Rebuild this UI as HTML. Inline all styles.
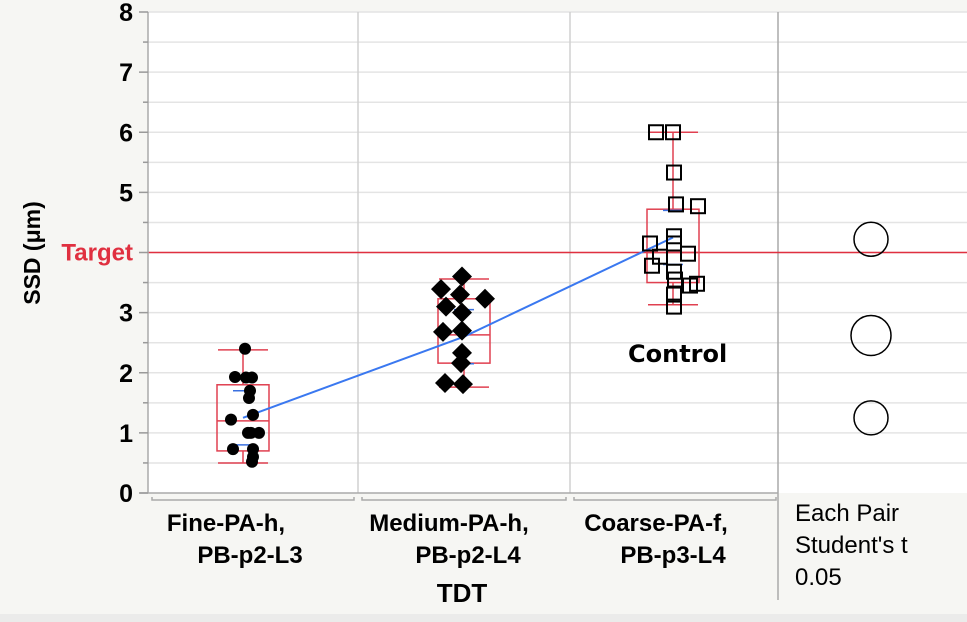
<!DOCTYPE html>
<html><head><meta charset="utf-8"><style>
html,body{margin:0;padding:0;background:#f6f6f3;}
svg{display:block;font-family:"Liberation Sans",sans-serif;}
</style></head><body>
<svg id="c" width="967" height="622" xmlns="http://www.w3.org/2000/svg">
<rect x="0" y="0" width="967" height="622" fill="#f6f6f3"/>
<rect x="0" y="614" width="967" height="8" fill="#ebebea"/>
<rect x="148" y="12" width="819" height="481" fill="#fff"/>
<g id="grid"></g><g id="marks"></g><g id="axes"></g>
</svg>
<script>
const yTicks=[0,1,2,3,4,5,6,7,8];
const categories=["Fine-PA-h,|PB-p2-L3","Medium-PA-h,|PB-p2-L4","Coarse-PA-f,|PB-p3-L4"];
const fineVals=[2.4,1.93,1.92,1.92,1.7,1.58,1.22,1.3,1.0,1.0,1.0,0.73,0.73,0.6,0.52];
const fineOff=[2,-8,3,9,7,6,-12,10,8,5,16,-10,10,10,9];
const medVals=[3.6,3.39,3.3,3.23,3.1,3.0,2.68,2.7,2.33,2.16,1.83,1.81];
const medOff=[-2,-23,-4,21,-18,-2,-21,-2,-2,-3,-19,-1];
const coarseVals=[6.0,6.0,5.33,4.8,4.77,4.27,4.15,4.15,3.93,3.98,3.78,3.68,3.55,3.45,3.48,3.3,3.1];
const coarseOff=[-17,0,1,3,25,1,1,-23,-13,15,-21,1,2,17,24,1,1];
const boxQ1=[0.7,2.16,3.5];
const boxMed=[1.2,2.63,4.0];
const boxQ3=[1.8,3.23,4.72];
const whiskLo=[0.5,1.76,3.13];
const whiskHi=[2.38,3.56,6.0];
const means=[1.25,2.6,4.25];
const target=4;
const circleY=[4.22,2.62,1.25];
const circleR=[17,20,17];

const NS="http://www.w3.org/2000/svg";
const y=v=>493-v*60.125;
const cx=[243,464,673];
function mk(p,t,a){const e=document.createElementNS(NS,t);for(const k in a)e.setAttribute(k,a[k]);document.getElementById(p).appendChild(e);return e;}
for(let v=0.5;v<=8;v+=0.5){const g=mk('grid','line',{x1:148,x2:967,y1:y(v),y2:y(v),stroke:'#e4e4e4','stroke-width':1.5});

}
[358,570].forEach(x=>{const l=mk('grid','line',{x1:x,x2:x,y1:12,y2:493,stroke:'#d0d0d0','stroke-width':1.5});

});
const sep=mk('grid','line',{x1:778,x2:778,y1:12,y2:600,stroke:'#aaa','stroke-width':1.5});


const tl=mk('grid','line',{x1:148,x2:967,y1:y(target),y2:y(target),stroke:'#e03040','stroke-width':1.5});


for(let i=0;i<3;i++){
 const x=cx[i];
 const b=mk('marks','rect',{x:x-26,y:y(boxQ3[i]),width:52,height:y(boxQ1[i])-y(boxQ3[i]),fill:'none',stroke:'#e04050','stroke-width':1.5});
 
 
 const parts=[[x-26,x+26,y(boxMed[i]),y(boxMed[i])],[x,x,y(whiskHi[i]),y(boxQ3[i])],[x,x,y(boxQ1[i]),y(whiskLo[i])],[x-25,x+25,y(whiskHi[i]),y(whiskHi[i])],[x-25,x+25,y(whiskLo[i]),y(whiskLo[i])]];
 parts.forEach(p=>{const l=mk('marks','line',{x1:p[0],x2:p[1],y1:p[2],y2:p[3],stroke:'#e04050','stroke-width':1.5});
 
 });
 [0.45,-0.45].forEach(d=>{const m=mk('marks','line',{x1:x-10,x2:x+10,y1:y(means[i]+d),y2:y(means[i]+d),stroke:'#3a70e0','stroke-width':1.5});
 
 });
}
const ml=mk('marks','polyline',{points:means.map((m,i)=>cx[i]+','+y(m)).join(' '),fill:'none',stroke:'#3a78f0','stroke-width':2});


fineVals.forEach((v,i)=>{const c=mk('marks','circle',{cx:cx[0]+fineOff[i],cy:y(v),r:6,fill:'#000'});

});
medVals.forEach((v,i)=>{const X=cx[1]+medOff[i],Y=y(v);const p=mk('marks','polygon',{points:`${X},${Y-10} ${X+10},${Y} ${X},${Y+10} ${X-10},${Y}`,fill:'#000'});

});
coarseVals.forEach((v,i)=>{const r=mk('marks','rect',{x:cx[2]+coarseOff[i]-7,y:y(v)-7,width:14,height:14,fill:'none',stroke:'#000','stroke-width':2});

});
circleY.forEach((v,i)=>{const c=mk('marks','circle',{cx:871,cy:y(v),r:circleR[i],fill:'none',stroke:'#000','stroke-width':1.5});

});
const ctl=mk('marks','text',{x:628,y:362,'font-size':24,'font-weight':'bold','font-family':'DejaVu Sans, sans-serif'});ctl.textContent='Control';


const ax=mk('axes','line',{x1:148,x2:148,y1:12,y2:493,stroke:'#aaa','stroke-width':1.5});


const bx=mk('axes','line',{x1:140,x2:778,y1:493,y2:493,stroke:'#aaa','stroke-width':1.5});


yTicks.forEach(v=>{
 if(v!==target){const t=mk('axes','text',{x:133,y:y(v)+9,'font-size':25,'font-weight':'bold','text-anchor':'end'});t.textContent=v;
 
 }
 const k=mk('axes','line',{x1:139,x2:148,y1:y(v),y2:y(v),stroke:'#999','stroke-width':1.5});
 
 
 if(v<8){const k2=mk('axes','line',{x1:143,x2:148,y1:y(v+0.5),y2:y(v+0.5),stroke:'#999','stroke-width':1.5});
 
 }
});
const tg=mk('axes','text',{x:133,y:y(target)+8,'font-size':24,'font-weight':'bold','text-anchor':'end',fill:'#e03040'});tg.textContent='Target';


const yt=mk('axes','text',{x:0,y:0,'font-size':23,'font-weight':'bold','text-anchor':'middle',transform:'translate(40,253) rotate(-90)'});yt.textContent='SSD (μm)';


const brk=[[152,354],[362,566],[574,776]];
brk.forEach(b=>{const p=mk('axes','polyline',{points:`${b[0]},497 ${b[0]},500 ${b[1]},500 ${b[1]},497`,fill:'none',stroke:'#aaa','stroke-width':1.5});

});
const l1x=[226,449,656], l2x=[250,468,673];
categories.forEach((c,i)=>{const [a,b]=c.split('|');
 const t1=mk('axes','text',{x:l1x[i],y:531,'font-size':24,'font-weight':'bold','text-anchor':'middle'});t1.textContent=a;
 
 
 const t2=mk('axes','text',{x:l2x[i],y:563,'font-size':24,'font-weight':'bold','text-anchor':'middle'});t2.textContent=b;
 
 });
const xt=mk('axes','text',{x:462,y:602,'font-size':26,'font-weight':'bold','text-anchor':'middle'});xt.textContent='TDT';


[["Each Pair",521],["Student's t",553],[" 0.05",585]].forEach(s=>{const t=mk('axes','text',{x:795,y:s[1],'font-size':24});t.textContent=s[0];

});
</script>
</body></html>
